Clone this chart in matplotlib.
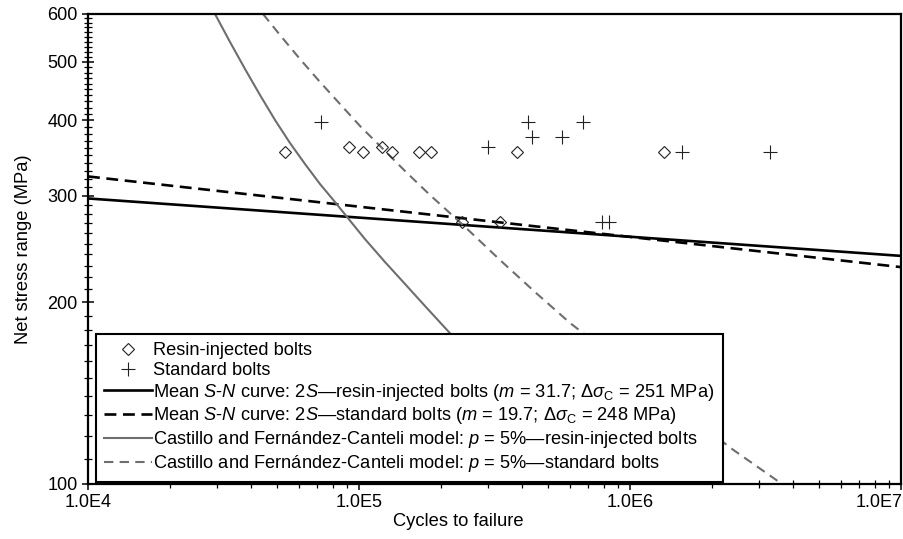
import matplotlib
matplotlib.use('Agg')
import matplotlib.pyplot as plt
from matplotlib.ticker import FixedLocator, FixedFormatter, NullFormatter
from matplotlib.transforms import ScaledTranslation

plt.rcParams['font.family'] = ['Liberation Sans', 'DejaVu Sans']
plt.rcParams['font.size'] = 13
plt.rcParams['mathtext.fontset'] = 'custom'
plt.rcParams['mathtext.rm'] = 'Liberation Sans'
plt.rcParams['mathtext.it'] = 'Liberation Sans:italic'

# test results
resin_N = [53300, 91900, 103500, 121600, 132400, 166400, 184400, 240000, 331500, 382800, 1334000]
resin_S = [355, 361, 355, 362, 355, 355, 355, 271, 271, 355, 355]
standard_N = [72400, 299300, 420600, 434700, 561000, 671000, 788000, 836800, 1555000, 3285000]
standard_S = [398, 361, 398, 375, 375, 398, 271, 271, 355, 355]

# mean S-N curves (straight in log-log)
mean_N = [1e4, 1e7]
resin_mean_S = [297, 238.6]
standard_mean_S = [323, 228.6]

# Castillo & Fernandez-Canteli 5% curves
cfc_resin_N = [29420, 33420, 37960, 43120, 48980, 55640, 63200, 71800, 81550,
               90300, 105200, 124700, 147800, 175200, 211200, 256800]
cfc_resin_S = [600, 539.3, 486.6, 440.6, 400.6, 366.9, 338.7, 313.8, 293.0,
               276.8, 254.4, 233.1, 214.4, 197.1, 179.9, 163.6]
cfc_std_N = [44240, 51100, 60570, 71800, 85100, 100850, 121600, 147800, 182800,
             239900, 331300, 446000, 600500, 2378000, 3638000]
cfc_std_S = [600, 553.8, 505.3, 463.0, 425.7, 391.5, 360.0, 329.8, 300.9,
             269.4, 234.9, 207.9, 184.8, 114.3, 100]

x_ticks = [1e4, 1e5, 1e6, 1e7]
x_labels = ['1.0E4', '1.0E5', '1.0E6', '1.0E7']
y_ticks = [100, 200, 300, 400, 500, 600]
y_labels = ['100', '200', '300', '400', '500', '600']

gray = '#6e6e6e'

fig = plt.figure(figsize=(9.04, 5.39), dpi=100)
ax = fig.add_axes([88/904, 1-484/539, 813/904, 470/539])
ax.set_xscale('log')
ax.set_yscale('log')

ax.plot(resin_N, resin_S, linestyle='none', marker='D', ms=6.3, mfc='none',
        mec='#222222', mew=0.8, zorder=4, label='Resin-injected bolts')
ax.plot(standard_N, standard_S, linestyle='none', marker='+', ms=9.5,
        mec='#222222', mew=0.8, zorder=4, label='Standard bolts')
ax.plot(mean_N, resin_mean_S, color='black', lw=1.9,
        label='Mean $S$-$N$ curve: 2$S$\u2014resin-injected bolts ($m$ = 31.7; \u0394$\\sigma_\\mathrm{C}$ = 251 MPa)')
ax.plot(mean_N, standard_mean_S, color='black', lw=1.9, dashes=(4.5, 2.5),
        label='Mean $S$-$N$ curve: 2$S$\u2014standard bolts ($m$ = 19.7; \u0394$\\sigma_\\mathrm{C}$ = 248 MPa)')
ax.plot(cfc_resin_N, cfc_resin_S, color=gray, lw=1.5,
        label='Castillo and Fern\u00e1ndez-Canteli model: $p$ = 5%\u2014resin-injected bolts')
ax.plot(cfc_std_N, cfc_std_S, color=gray, lw=1.5, dashes=(4.5, 3.0),
        label='Castillo and Fern\u00e1ndez-Canteli model: $p$ = 5%\u2014standard bolts')

ax.set_xlim(1e4, 1e7)
ax.set_ylim(100, 600)

ax.xaxis.set_major_locator(FixedLocator(x_ticks))
ax.xaxis.set_major_formatter(FixedFormatter(x_labels))
ax.xaxis.set_minor_locator(FixedLocator([k * 10**e for e in (4, 5, 6) for k in range(2, 10)]))
ax.xaxis.set_minor_formatter(NullFormatter())
ax.yaxis.set_major_locator(FixedLocator(y_ticks))
ax.yaxis.set_major_formatter(FixedFormatter(y_labels))
ax.yaxis.set_minor_locator(FixedLocator([v for v in range(110, 600, 10) if v % 100]))
ax.yaxis.set_minor_formatter(NullFormatter())

ax.tick_params(which='major', direction='inout', length=9, width=1.1, pad=3,
               top=False, right=False, labelsize=13, colors='black')
ax.tick_params(which='minor', direction='inout', length=6, width=0.9,
               top=False, right=False)
for sp in ax.spines.values():
    sp.set_linewidth(1.6)

ax.set_xlabel('Cycles to failure', fontsize=13.2)
ax.set_ylabel('Net stress range (MPa)', fontsize=13.2)
ax.xaxis.set_label_coords(0.455, -0.062)
ax.yaxis.set_label_coords(-0.069, 0.5)

# last x label sits a little to the left, as in the original
last = ax.get_xticklabels()[-1]
last.set_transform(last.get_transform() + ScaledTranslation(-22/100, 0, fig.dpi_scale_trans))

leg = ax.legend(loc='lower left', bbox_to_anchor=(0.0098, 0.004), borderaxespad=0,
                fontsize=13.15, numpoints=1, handlelength=2.6, handletextpad=0.1,
                labelspacing=0.15, borderpad=0.45, fancybox=False, framealpha=1,
                edgecolor='black')
leg.get_frame().set_linewidth(1.5)

fig.savefig('out.png', dpi=100)
